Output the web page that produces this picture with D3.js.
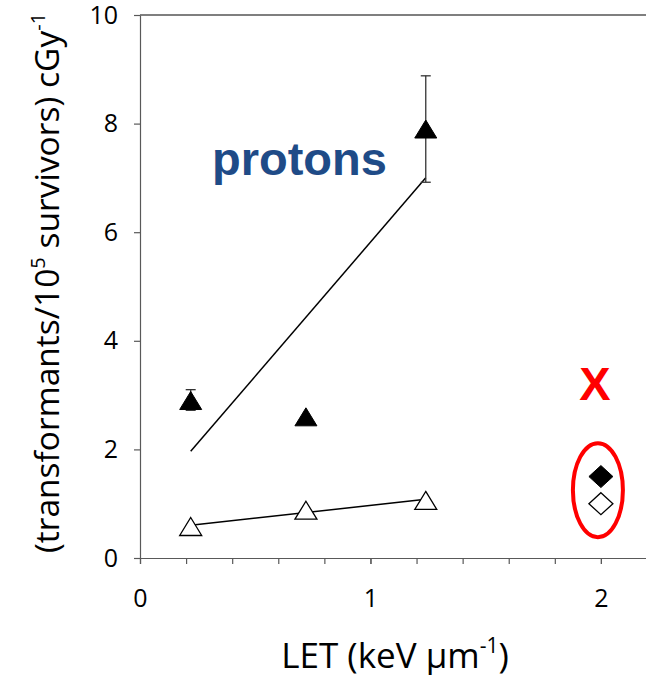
<!DOCTYPE html>
<html><head><meta charset="utf-8">
<script src="https://cdn.jsdelivr.net/npm/d3@7"></script>
<style>body{margin:0;background:#fff} svg{display:block}</style>
</head><body>
<svg id="c" width="646" height="675"></svg>
<script>
// ---- data ----
const protonLET = [0.22, 0.72, 1.24];
const protonFilled = [2.9, 2.6, 7.9];
const protonFilledErrLow = [2.72, null, 6.92];
const protonFilledErrHigh = [3.1, null, 8.88];
const protonOpen = [0.58, 0.88, 1.06];
const xrayLET = [2.0];
const xrayFilled = [1.5];
const xrayOpen = [1.0];
const xTickValues = [0, 1, 2];
const xMinorTicks = [0, 0.2, 0.4, 0.6, 0.8, 1.0, 1.2, 1.4, 1.6, 1.8, 2.0, 2.2];
const yTickValues = [0, 2, 4, 6, 8, 10];

const svg = d3.select("#c");
const font = "'Open Sans', sans-serif";
const x = d3.scaleLinear().domain([0, 2.2]).range([140, 647]);
const y = d3.scaleLinear().domain([0, 10]).range([558, 15]);
const axisColor = "#595959";

// top border
svg.append("line").attr("x1", x(0)).attr("x2", x(2.2)).attr("y1", y(10)).attr("y2", y(10))
  .attr("stroke", "#000").attr("stroke-width", 1.2);

// y axis
const gy = svg.append("g").attr("transform", `translate(${x(0)},0)`)
  .call(d3.axisLeft(y).tickValues(yTickValues).tickSize(6).tickSizeOuter(0).tickPadding(16));
gy.selectAll("path,line").attr("stroke", axisColor).attr("stroke-width", 1.2);
gy.selectAll("text").attr("font-family", font).attr("font-size", 25).attr("fill", "#000");

// x axis minor ticks
const gxm = svg.append("g").attr("transform", `translate(0,${y(0)})`)
  .call(d3.axisBottom(x).tickValues(xMinorTicks).tickSize(6).tickSizeOuter(0).tickFormat(""));
gxm.selectAll("path,line").attr("stroke", axisColor).attr("stroke-width", 1.2);
// x axis labels
const gx = svg.append("g").attr("transform", `translate(0,${y(0)})`)
  .call(d3.axisBottom(x).tickValues(xTickValues).tickSize(6).tickSizeOuter(0).tickPadding(25).tickFormat(d3.format("d")));
gx.select("path").remove();
gx.selectAll("line").attr("stroke", axisColor).attr("stroke-width", 1.2);
gx.selectAll("text").attr("font-family", font).attr("font-size", 25).attr("fill", "#000");

// least-squares trend lines
function fit(xs, ys) {
  const mx = d3.mean(xs), my = d3.mean(ys);
  const b = d3.sum(xs, (v, i) => (v - mx) * (ys[i] - my)) / d3.sum(xs, v => (v - mx) ** 2);
  return v => my + b * (v - mx);
}
[protonFilled, protonOpen].forEach(ys => {
  const f = fit(protonLET, ys);
  const x0 = d3.min(protonLET), x1 = d3.max(protonLET);
  svg.append("line").attr("x1", x(x0)).attr("y1", y(f(x0))).attr("x2", x(x1)).attr("y2", y(f(x1)))
    .attr("stroke", "#000").attr("stroke-width", 1.5);
});

// error bars
protonLET.forEach((lv, i) => {
  if (protonFilledErrLow[i] == null) return;
  const cx = x(lv), cap = 5;
  const g = svg.append("g").attr("stroke", "#333").attr("stroke-width", 1.3);
  g.append("line").attr("x1", cx).attr("x2", cx).attr("y1", y(protonFilledErrLow[i])).attr("y2", y(protonFilledErrHigh[i]));
  [protonFilledErrLow[i], protonFilledErrHigh[i]].forEach(v =>
    g.append("line").attr("x1", cx - cap).attr("x2", cx + cap).attr("y1", y(v)).attr("y2", y(v)));
});

// markers
const tri = (w, h) => `M0,${-h / 2}L${w / 2},${h / 2}L${-w / 2},${h / 2}Z`;
const dia = (w, h) => `M0,${-h / 2}L${w / 2},0L0,${h / 2}L${-w / 2},0Z`;
protonLET.forEach((lv, i) => {
  svg.append("path").attr("d", tri(22, 18)).attr("transform", `translate(${x(lv)},${y(protonOpen[i])})`)
    .attr("fill", "#fff").attr("stroke", "#000").attr("stroke-width", 1.3);
  svg.append("path").attr("d", tri(22, 18)).attr("transform", `translate(${x(lv)},${y(protonFilled[i])})`)
    .attr("fill", "#000").attr("stroke", "#000").attr("stroke-width", 1);
});
xrayLET.forEach((lv, i) => {
  svg.append("path").attr("d", dia(24, 22)).attr("transform", `translate(${x(lv)},${y(xrayFilled[i])})`)
    .attr("fill", "#000").attr("stroke", "#000").attr("stroke-width", 1);
  svg.append("path").attr("d", dia(24, 22)).attr("transform", `translate(${x(lv)},${y(xrayOpen[i])})`)
    .attr("fill", "#fff").attr("stroke", "#000").attr("stroke-width", 1.3);
  // red ellipse around x-ray points
  svg.append("ellipse").attr("cx", x(lv) - 3).attr("cy", (y(xrayFilled[i]) + y(xrayOpen[i])) / 2)
    .attr("rx", 25).attr("ry", 47).attr("fill", "none").attr("stroke", "#ff0000").attr("stroke-width", 4);
  svg.append("text").attr("x", x(lv) - 6).attr("y", 400).attr("text-anchor", "middle")
    .attr("font-family", "'Liberation Sans', Arial, sans-serif").attr("font-weight", "bold").attr("font-size", 47)
    .attr("fill", "#ff0000").text("X");
});

// annotation
svg.append("text").attr("x", 212).attr("y", 175)
  .attr("font-family", "'Liberation Sans', Arial, sans-serif").attr("font-weight", "bold").attr("font-size", 47)
  .attr("fill", "#1f4b87").text("protons");

// axis titles
const xt = svg.append("text").attr("x", 395).attr("y", 668).attr("text-anchor", "middle")
  .attr("font-family", font).attr("font-size", 35).attr("fill", "#000");
xt.append("tspan").text("LET (keV μm");
xt.append("tspan").attr("font-size", 21).attr("dy", -15).text("-1");
xt.append("tspan").attr("dy", 15).text(")");

const yt = svg.append("text").attr("transform", "translate(59,283) rotate(-90)").attr("text-anchor", "middle")
  .attr("font-family", font).attr("font-size", 33.5).attr("fill", "#000");
yt.append("tspan").text("(transformants/10");
yt.append("tspan").attr("font-size", 20).attr("dy", -14).text("5");
yt.append("tspan").attr("dy", 14).text(" survivors) cGy");
yt.append("tspan").attr("font-size", 20).attr("dy", -14).text("-1");
</script>
</body></html>
